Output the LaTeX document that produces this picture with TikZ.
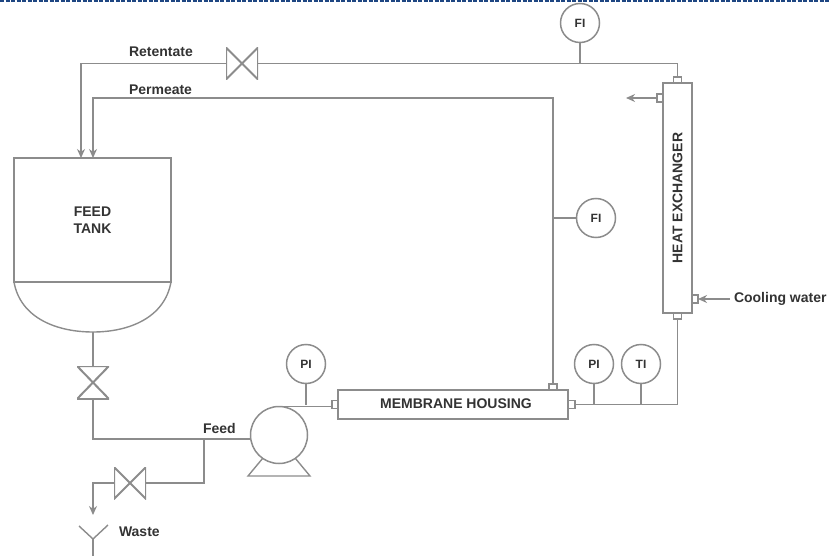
\documentclass[tikz,border=0pt]{standalone}
\usepackage{fontspec}
\setmainfont{Liberation Sans}
\usetikzlibrary{arrows.meta, calc}

\definecolor{pipegray}{gray}{0.55}
\definecolor{labelgray}{gray}{0.2}
\definecolor{edgeblue}{RGB}{30,70,130}

\begin{document}
\begin{tikzpicture}[
    x=1pt, y=-1pt,
    >={Stealth[length=9pt, width=8pt]},
    pipe/.style={draw=pipegray, line width=1.4pt},
    lbl/.style={text=labelgray, font=\fontsize{14}{17}\selectfont\bfseries, inner sep=0pt, outer sep=0pt, align=center},
    unit/.style={lbl, draw=pipegray, line width=1.5pt, fill=white},
    instrument/.style={unit, circle, minimum size=39pt, font=\fontsize{12}{14}\selectfont\bfseries},
    nozzle/.style={draw=pipegray, line width=1.2pt, fill=white, inner sep=0pt, outer sep=0pt, minimum width=#1},
    valveh/.style={inner sep=0pt, outer sep=0pt, minimum width=32pt, minimum height=32pt,
        path picture={\draw[draw=pipegray, line width=2pt] (path picture bounding box.north west) -- (path picture bounding box.south east) -- (path picture bounding box.north east) -- (path picture bounding box.south west) -- cycle;}},
    valvev/.style={inner sep=0pt, outer sep=0pt, minimum width=32pt, minimum height=33pt,
        path picture={\draw[draw=pipegray, line width=2pt] (path picture bounding box.north west) -- (path picture bounding box.north east) -- (path picture bounding box.south west) -- (path picture bounding box.south east) -- cycle;}}
]
\useasboundingbox (0,0) rectangle (829,556);

% -------------------------
% UNITS
% -------------------------
\node[unit, minimum width=157pt, minimum height=124pt] (FeedTank) at (92.5,220) {\raisebox{-3pt}{FEED}\\\raisebox{-3pt}{TANK}};
\node[unit, minimum width=230pt, minimum height=29pt] (Housing) at (453,404.5) {};
\node[lbl] (HousingText) at (456,404) {MEMBRANE HOUSING};
\node[unit, minimum width=29pt, minimum height=230pt] (Exchanger) at (677.5,198) {};
\node[lbl, rotate=90] (ExchangerText) at (677.5,198) {HEAT EXCHANGER};
\node[unit, circle, minimum size=57pt] (Pump) at (279,435) {};

% Nozzles
\node[nozzle=8pt, minimum height=6pt] (ExTop) at (677.5,80) {};
\node[nozzle=8pt, minimum height=6pt] (ExBottom) at (677.5,316) {};
\node[nozzle=6pt, minimum height=8pt] (ExOut) at (660,98) {};
\node[nozzle=6pt, minimum height=8pt] (ExIn) at (695,299) {};
\node[nozzle=6pt, minimum height=8pt] (HousingIn) at (335,404.5) {};
\node[nozzle=7pt, minimum height=8pt] (HousingOut) at (571.5,404.5) {};
\node[nozzle=8pt, minimum height=6pt] (HousingTop) at (553,387) {};

% Valves
\node[valveh] (ValveRet) at (242,63.5) {};
\node[valvev] (ValveTank) at (93,382.5) {};
\node[valveh] (ValveWaste) at (130,483) {};

% Instruments
\node[instrument] (FITop) at (580,23) {FI};
\node[instrument] (FIPerm) at (596,218) {FI};
\node[instrument] (PIPump) at (306,364) {PI};
\node[instrument] (PIOut) at (594,364) {PI};
\node[instrument] (TIOut) at (641,364) {TI};

% Labels
\node[lbl, anchor=west] (Retentate) at (129,52) {Retentate};
\node[lbl, anchor=west] (Permeate) at (129,90) {Permeate};
\node[lbl, anchor=west] (Feed) at (203,428) {Feed};
\node[lbl, anchor=west] (Waste) at (119,532) {Waste};
\node[lbl, anchor=west] (Cooling) at (734,299) {Cooling water};

% -------------------------
% POINTS
% -------------------------
\coordinate (RetIn) at (81,158);
\coordinate (PermIn) at (93,158);
\coordinate (PermCorner) at (93,98);
\coordinate (TankOut) at (93,332);
\coordinate (FeedJoin) at (204,439);
\coordinate (BaseL) at (248,476);
\coordinate (BaseR) at (310,476);
\coordinate (ExOutEnd) at (626,98);
\coordinate (CoolStart) at (730,299);
\coordinate (DrainEnd) at (93,515);
\coordinate (FunnelL) at (79,526);
\coordinate (FunnelM) at (93,539);
\coordinate (FunnelR) at (108,525);
\coordinate (SewerEnd) at (93,556);
\coordinate (EdgeL) at (0,0.8);
\coordinate (EdgeR) at (829,0.8);

% -------------------------
% PIPES
% -------------------------
% Retentate and permeate returns
\draw[pipe, ->] (ValveRet.west) -| (RetIn);
\draw[pipe] (ValveRet.east) -| (ExTop.north);
\draw[pipe, ->] (HousingTop.north) |- (PermCorner) -- (PermIn);
\draw[pipe] (FITop.south) -- (FITop.south |- ValveRet);
\draw[pipe] (FIPerm.west) -- (FIPerm.west -| HousingTop);

% Tank bottom and feed line
\draw[pipe] (FeedTank.south west) to[out=-80, in=180] (TankOut) to[out=0, in=-100] (FeedTank.south east);
\draw[pipe] (TankOut) -- (ValveTank.north);
\draw[pipe] (ValveTank.south) |- (FeedJoin) -- (FeedJoin -| Pump.west);
\draw[pipe] (FeedJoin) |- (ValveWaste.east);
\draw[pipe, ->] (ValveWaste.west) -| (DrainEnd);
\draw[pipe] (FunnelL) -- (FunnelM) -- (FunnelR);
\draw[pipe] (FunnelM) -- (SewerEnd);

% Pump
\draw[pipe] (Pump.-125) -- (BaseL) -- (BaseR) -- (Pump.-55);
\draw[pipe] (Pump.north) -- (Pump.north -| HousingIn.west);
\draw[pipe] (PIPump.south) -- (PIPump.south |- HousingIn);

% Housing to exchanger
\draw[pipe] (HousingOut.east) -| (ExBottom.south);
\draw[pipe] (PIOut.south) -- (PIOut.south |- HousingOut);
\draw[pipe] (TIOut.south) -- (TIOut.south |- HousingOut);

% Cooling water
\draw[pipe, ->] (ExOut.west) -- (ExOutEnd);
\draw[pipe, ->] (CoolStart) -- (ExIn.east);

% Edge of the page
\draw[draw=edgeblue, line width=1.6pt, dash pattern=on 4pt off 1.5pt] (EdgeL) -- (EdgeR);

\end{tikzpicture}
\end{document}
